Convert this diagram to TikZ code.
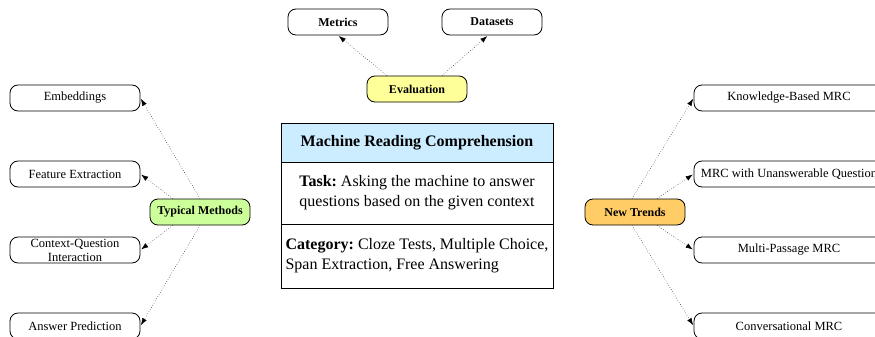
\documentclass[tikz,border=0pt]{standalone}
\usepackage{fontspec}
\setmainfont{Liberation Serif}
\usepackage{tikz}
\usetikzlibrary{arrows.meta,positioning}
\frenchspacing

\definecolor{methgreen}{RGB}{204,255,153}
\definecolor{evalyellow}{RGB}{255,255,153}
\definecolor{trendorange}{RGB}{255,204,102}
\definecolor{mrcblue}{RGB}{204,236,255}

\begin{document}
\begin{tikzpicture}[->,>={Latex[length=7pt,width=5pt]},shorten >=1pt,x=1pt,y=-1pt]
  \tikzstyle{leaf}=[draw,line width=0.8pt,rounded corners=8pt,minimum width=130pt,minimum height=26pt,inner ysep=0pt,align=center,font=\fontsize{12.5}{14}\selectfont]
  \tikzstyle{hub}=[leaf,minimum width=100pt,font=\fontsize{12}{14}\selectfont\bfseries]
  \tikzstyle{cell}=[draw,line width=0.8pt,rectangle,minimum width=272pt,inner xsep=2pt,outer sep=0pt,font=\fontsize{16}{20}\selectfont]
  \tikzstyle{link}=[dotted,line width=0.5pt]
  \path[use as bounding box,clip] (0,0) rectangle (875,337);

	% typical methods
	\node[leaf] (emb) at (75,98) {Embeddings};
	\node[leaf] (feat) at (75,174) {Feature Extraction};
	\node[leaf] (cqi) at (75,250) {Context-Question\\Interaction};
	\node[leaf] (ans) at (75,326) {Answer Prediction};
	\node[hub, fill=methgreen] (meth) at (200,212) {Typical Methods};

	% evaluation
	\node[hub, fill=evalyellow] (eval) at (417,89) {Evaluation};
	\node[hub] (metr) at (338,22) {Metrics};
	\node[hub] (data) at (492,22) {Datasets};

	% central table
	\node[cell, fill=mrcblue, minimum height=39pt, font=\fontsize{16}{20}\selectfont\bfseries] (mrc) at (417,142.5) {Machine Reading Comprehension};
	\node[cell, below=0pt of mrc, minimum height=62pt, align=center] (task) {\textbf{Task:} Asking the machine to answer\\questions based on the given context};
	\node[cell, below=0pt of task, minimum height=64pt, align=left] (cat) {\textbf{Category:} Cloze Tests, Multiple Choice,\\Span Extraction, Free Answering};

	% new trends
	\node[hub, fill=trendorange] (trend) at (635,212) {New Trends};
	\node[leaf, minimum width=190pt] (kb) at (789,98) {Knowledge-Based MRC};
	\node[leaf, minimum width=190pt] (unq) at (789,174) {MRC with Unanswerable Question};
	\node[leaf, minimum width=190pt] (multi) at (789,250) {Multi-Passage MRC};
	\node[leaf, minimum width=190pt] (conv) at (789,326) {Conversational MRC};

	\path[link]
	(meth.north) edge (emb.east)
	([xshift=-27pt]meth.north) edge (feat.east)
	([xshift=-27pt]meth.south) edge (cqi.east)
	(meth.south) edge (ans.east)
	([xshift=-30pt]eval.north) edge (metr.south)
	([xshift=25pt]eval.north) edge ([xshift=-4pt]data.south)
	([xshift=-3pt]trend.north) edge (kb.west)
	([xshift=22pt]trend.north) edge (unq.west)
	([xshift=22pt]trend.south) edge (multi.west)
	([xshift=-3pt]trend.south) edge (conv.west);
\end{tikzpicture}
\end{document}
